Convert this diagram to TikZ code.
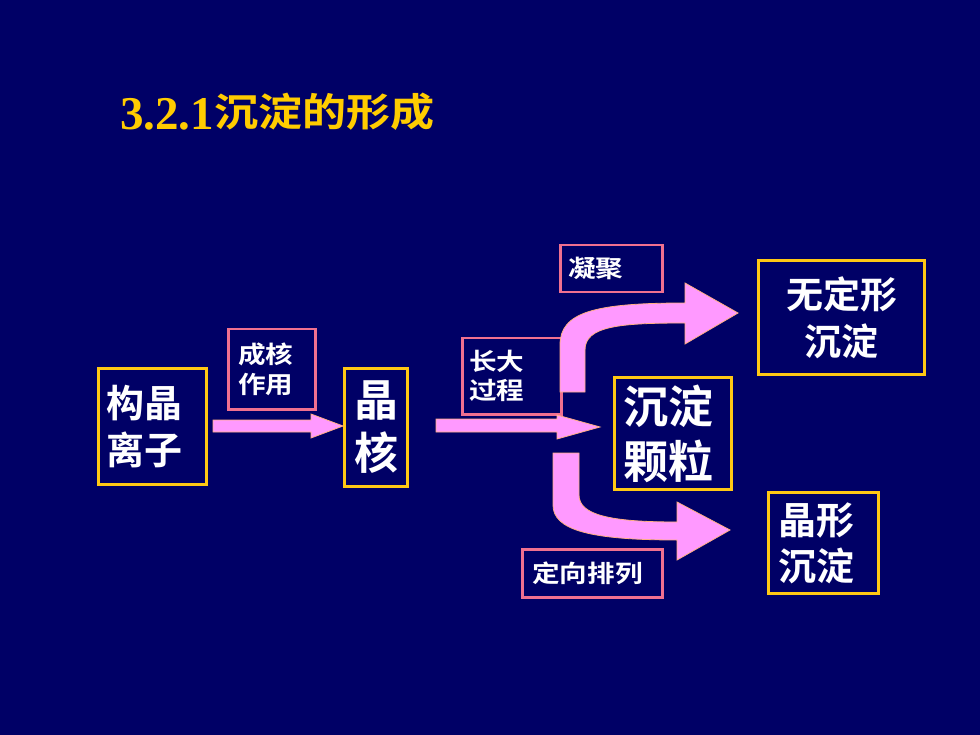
\documentclass[tikz,border=0pt]{standalone}
\usepackage{fontspec}
\setmainfont{Liberation Serif}
\newfontfamily\cjk{Noto Sans CJK SC Bold}
\definecolor{bgnavy}{RGB}{0,0,102}
\definecolor{boxyellow}{RGB}{255,200,20}
\definecolor{boxpink}{RGB}{240,112,144}
\definecolor{titlegold}{RGB}{255,204,0}
\definecolor{arrowpink}{RGB}{255,153,255}
\definecolor{arrowedge}{RGB}{255,175,130}
\tikzset{
  ybox/.style={draw=boxyellow, line width=3pt, anchor=north west, text=white, inner ysep=0pt},
  pbox/.style={draw=boxpink, line width=2.5pt, anchor=north west, text=white, inner ysep=0pt},
  blockarrow/.style={fill=arrowpink, draw=arrowedge, line width=0.8pt, line join=miter},
}
\newcommand{\sx}[1]{\scalebox{1.15}[1]{#1}}
\begin{document}
\begin{tikzpicture}[x=1pt,y=-1pt]
\fill[bgnavy] (0,0) rectangle (980,735);
\useasboundingbox (0,0) rectangle (980,735);

% title
\node[anchor=base west, inner sep=0pt, text=titlegold] (title) at (120,130)
  {{\rmfamily\bfseries\fontsize{47}{47}\selectfont 3.2.1}\raisebox{3.5pt}{\cjk\fontsize{39}{39}\selectfont\scalebox{1.13}[1]{沉淀的形成}}};

% main boxes
\node[ybox, minimum width=108, minimum height=116, text width=92, inner xsep=8, align=left,
  font=\cjk\fontsize{38}{47}\selectfont] (ions) at (97,367) {构晶\\离子};
\node[ybox, minimum width=63, minimum height=118, text width=51, inner xsep=6, align=center,
  font=\cjk\fontsize{44}{53}\selectfont] (nucleus) at (343,367) {晶\\核};
\node[ybox, minimum width=117, minimum height=112, text width=99, inner xsep=9, align=left,
  font=\cjk\fontsize{45}{55}\selectfont] (particle) at (613,376) {沉淀\\颗粒};
\node[ybox, minimum width=166, minimum height=114, text width=150, inner xsep=8, align=center,
  font=\cjk\fontsize{37}{47}\selectfont] (amorph) at (757,259) {无定形\\沉淀};
\node[ybox, minimum width=110, minimum height=101, text width=90, inner xsep=10, align=left,
  font=\cjk\fontsize{38}{46}\selectfont] (crystal) at (767,491) {晶形\\沉淀};

% label boxes
\node[pbox, minimum width=87, minimum height=80, text width=67, inner xsep=10, align=left,
  font=\cjk\fontsize{24}{30}\selectfont] (nucl) at (227,328) {\sx{成核}\\\sx{作用}};
\node[pbox, minimum width=99, minimum height=76, text width=85, inner xsep=7, align=left,
  font=\cjk\fontsize{24}{29}\selectfont] (grow) at (461,337) {\sx{长大}\\\sx{过程}};
\node[pbox, minimum width=102, minimum height=47, text width=86, inner xsep=8, align=left,
  font=\cjk\fontsize{24}{29}\selectfont] (aggr) at (559,244) {\sx{凝聚}};
\node[pbox, minimum width=140, minimum height=48, text width=120, inner xsep=10, align=left,
  font=\cjk\fontsize{24}{29}\selectfont] (orient) at (521,548) {\sx{定向排列}};

% straight block arrows
\draw[blockarrow] (213,420) -- (311,420) -- (311,414) -- (343,426) -- (311,438) -- (311,432) -- (213,432) -- cycle;
\draw[blockarrow] (436,419) -- (557,419) -- (557,415) -- (600,427) -- (557,439) -- (557,432) -- (436,432) -- cycle;

% upper curved block arrow
\draw[blockarrow] (560,392) -- (560,345) .. controls (560,312) and (595,303) .. (685,303)
  -- (685,283) -- (738,313) -- (685,344) -- (685,323)
  .. controls (620,323) and (585,326) .. (585,350) -- (585,392) -- cycle;

% lower curved block arrow
\draw[blockarrow] (553,453) -- (553,505) .. controls (553,530) and (590,540) .. (677,540)
  -- (677,560) -- (730,530) -- (677,502) -- (677,522)
  .. controls (610,522) and (579,515) .. (579,495) -- (579,453) -- cycle;
\end{tikzpicture}
\end{document}
